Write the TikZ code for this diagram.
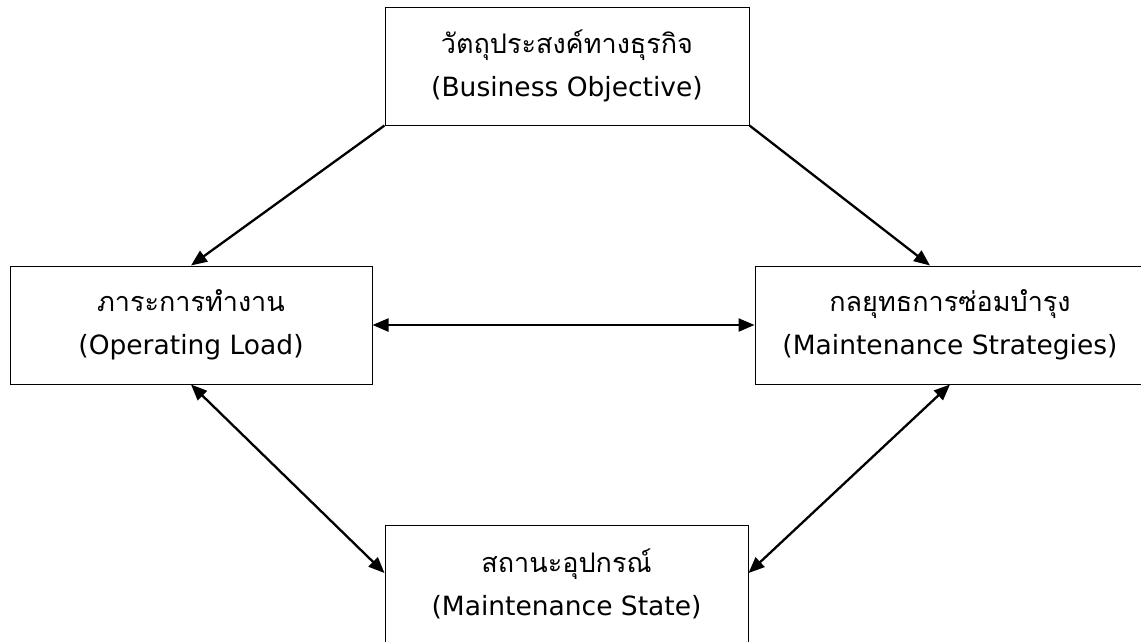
\documentclass[tikz,border=0pt]{standalone}
\usepackage{fontspec}
\setmainfont{DejaVu Sans}
\newfontfamily\thaifont[Script=Thai]{Loma}
\usetikzlibrary{positioning,arrows.meta}

\begin{document}
\begin{tikzpicture}[x=1pt, y=-1pt, >={Triangle[length=16pt,width=13pt]}]
                \tikzset{box/.style={draw, line width=1pt, align=center, inner sep=0pt, minimum height=118pt,
                        font=\fontsize{26.5}{43}\selectfont}}
                \useasboundingbox (0,0) rectangle (1141,641);
                \node (objective) [box, minimum width=364pt] at (567,66) {{\thaifont\fontsize{27}{43}\selectfont วัตถุประสงค์ทางธุรกิจ}\\(Business Objective)};
                \node (load) [box, minimum width=362pt] at (191,325) {{\thaifont\fontsize{27}{43}\selectfont ภาระการทำงาน}\\(Operating Load)};
                \node (strategy) [box, minimum width=390pt] at (950,325) {{\thaifont\fontsize{27}{43}\selectfont กลยุทธการซ่อมบำรุง}\\(Maintenance Strategies)};
                \node (state) [box, minimum width=363pt] at (566.5,584) {{\thaifont\fontsize{27}{43}\selectfont สถานะอุปกรณ์}\\(Maintenance State)};
                \draw[->, line width=2.3pt] (objective.south west) -- (load.north);
                \draw[->, line width=2.3pt] (objective.south east) -- ([xshift=-20pt]strategy.north);
                \draw[<->, line width=2.3pt] (load.east) -- (strategy.west);
                \draw[<->, line width=2.3pt] (load.south) -- ([yshift=11pt]state.west);
                \draw[<->, line width=2.3pt] (strategy.south) -- ([yshift=11pt]state.east);
            \end{tikzpicture}
\end{document}
